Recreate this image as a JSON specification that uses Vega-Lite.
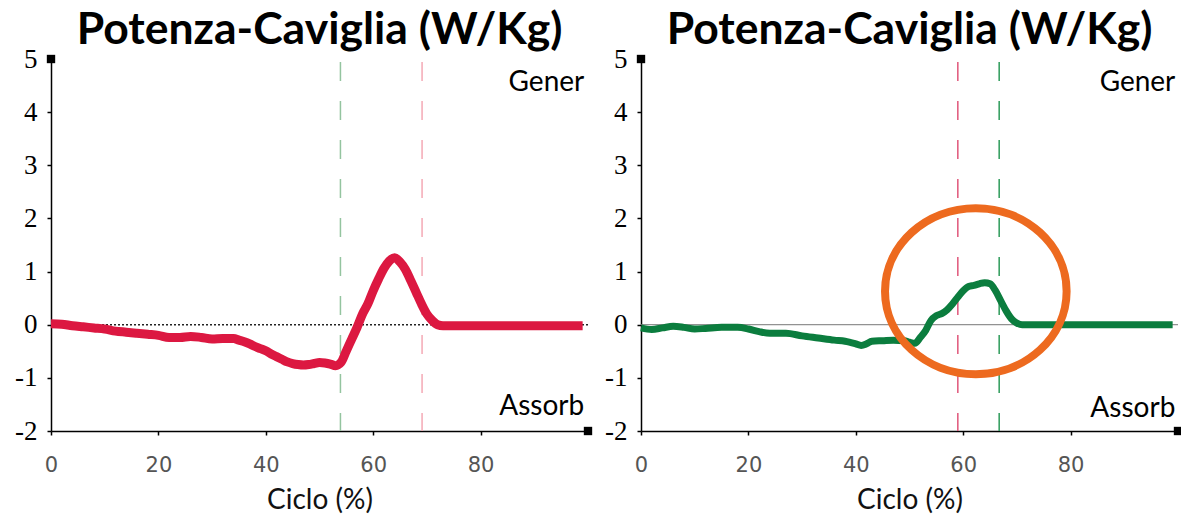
{
  "$schema": "https://vega.github.io/schema/vega-lite/v6.json",
  "background": "white",
  "padding": {"left": 14, "top": 7, "right": 0, "bottom": 0},
  "spacing": 11,
  "config": {
    "view": {"stroke": null},
    "axis": {"grid": false, "domainColor": "#000", "tickColor": "#000"}
  },
  "datasets": {
    "curves": [
      {"panel": "A", "x": 0, "y": 0.02}, {"panel": "A", "x": 2, "y": 0.01}, {"panel": "A", "x": 4, "y": -0.02},
      {"panel": "A", "x": 6, "y": -0.04}, {"panel": "A", "x": 8, "y": -0.06}, {"panel": "A", "x": 10, "y": -0.08},
      {"panel": "A", "x": 12, "y": -0.12}, {"panel": "A", "x": 14, "y": -0.14}, {"panel": "A", "x": 16, "y": -0.16},
      {"panel": "A", "x": 18, "y": -0.18}, {"panel": "A", "x": 20, "y": -0.2}, {"panel": "A", "x": 22, "y": -0.24},
      {"panel": "A", "x": 24, "y": -0.24}, {"panel": "A", "x": 26, "y": -0.22}, {"panel": "A", "x": 28, "y": -0.24},
      {"panel": "A", "x": 30, "y": -0.27}, {"panel": "A", "x": 32, "y": -0.26}, {"panel": "A", "x": 34, "y": -0.26},
      {"panel": "A", "x": 35, "y": -0.29}, {"panel": "A", "x": 36, "y": -0.32}, {"panel": "A", "x": 37, "y": -0.36},
      {"panel": "A", "x": 38, "y": -0.41}, {"panel": "A", "x": 39, "y": -0.45}, {"panel": "A", "x": 40, "y": -0.49},
      {"panel": "A", "x": 41, "y": -0.55}, {"panel": "A", "x": 42, "y": -0.6}, {"panel": "A", "x": 43, "y": -0.65},
      {"panel": "A", "x": 44, "y": -0.7}, {"panel": "A", "x": 45, "y": -0.73}, {"panel": "A", "x": 46, "y": -0.75},
      {"panel": "A", "x": 47, "y": -0.76}, {"panel": "A", "x": 48, "y": -0.75}, {"panel": "A", "x": 49, "y": -0.73},
      {"panel": "A", "x": 50, "y": -0.71}, {"panel": "A", "x": 51, "y": -0.72}, {"panel": "A", "x": 52, "y": -0.74},
      {"panel": "A", "x": 53, "y": -0.77}, {"panel": "A", "x": 54, "y": -0.71}, {"panel": "A", "x": 55, "y": -0.49},
      {"panel": "A", "x": 56, "y": -0.27}, {"panel": "A", "x": 57, "y": -0.05}, {"panel": "A", "x": 58, "y": 0.2},
      {"panel": "A", "x": 59, "y": 0.39}, {"panel": "A", "x": 60, "y": 0.64}, {"panel": "A", "x": 61, "y": 0.86},
      {"panel": "A", "x": 62, "y": 1.06}, {"panel": "A", "x": 63, "y": 1.2}, {"panel": "A", "x": 64, "y": 1.26},
      {"panel": "A", "x": 65, "y": 1.18}, {"panel": "A", "x": 66, "y": 1.04}, {"panel": "A", "x": 67, "y": 0.83},
      {"panel": "A", "x": 68, "y": 0.61}, {"panel": "A", "x": 69, "y": 0.39}, {"panel": "A", "x": 70, "y": 0.2},
      {"panel": "A", "x": 71, "y": 0.08}, {"panel": "A", "x": 72, "y": 0.0}, {"panel": "A", "x": 73, "y": -0.02},
      {"panel": "A", "x": 75, "y": -0.02}, {"panel": "A", "x": 80, "y": -0.02}, {"panel": "A", "x": 85, "y": -0.02},
      {"panel": "A", "x": 90, "y": -0.02}, {"panel": "A", "x": 95, "y": -0.02}, {"panel": "A", "x": 99, "y": -0.02},
      {"panel": "B", "x": 0, "y": -0.06}, {"panel": "B", "x": 2, "y": -0.09}, {"panel": "B", "x": 4, "y": -0.06},
      {"panel": "B", "x": 6, "y": -0.03}, {"panel": "B", "x": 8, "y": -0.05}, {"panel": "B", "x": 10, "y": -0.08},
      {"panel": "B", "x": 12, "y": -0.07}, {"panel": "B", "x": 15, "y": -0.05}, {"panel": "B", "x": 18, "y": -0.05},
      {"panel": "B", "x": 20, "y": -0.08}, {"panel": "B", "x": 22, "y": -0.13}, {"panel": "B", "x": 24, "y": -0.16},
      {"panel": "B", "x": 27, "y": -0.16}, {"panel": "B", "x": 30, "y": -0.21}, {"panel": "B", "x": 33, "y": -0.25},
      {"panel": "B", "x": 36, "y": -0.29}, {"panel": "B", "x": 38, "y": -0.31}, {"panel": "B", "x": 40, "y": -0.36},
      {"panel": "B", "x": 41, "y": -0.39}, {"panel": "B", "x": 42, "y": -0.36}, {"panel": "B", "x": 43, "y": -0.31},
      {"panel": "B", "x": 45, "y": -0.3}, {"panel": "B", "x": 47, "y": -0.29}, {"panel": "B", "x": 49, "y": -0.3},
      {"panel": "B", "x": 50, "y": -0.33}, {"panel": "B", "x": 51, "y": -0.35}, {"panel": "B", "x": 52, "y": -0.24},
      {"panel": "B", "x": 53, "y": -0.11}, {"panel": "B", "x": 54, "y": 0.08}, {"panel": "B", "x": 55, "y": 0.17},
      {"panel": "B", "x": 56, "y": 0.21}, {"panel": "B", "x": 57, "y": 0.28}, {"panel": "B", "x": 58, "y": 0.39},
      {"panel": "B", "x": 59, "y": 0.52}, {"panel": "B", "x": 60, "y": 0.64}, {"panel": "B", "x": 61, "y": 0.72},
      {"panel": "B", "x": 62, "y": 0.74}, {"panel": "B", "x": 63, "y": 0.77}, {"panel": "B", "x": 64, "y": 0.79},
      {"panel": "B", "x": 65, "y": 0.77}, {"panel": "B", "x": 66, "y": 0.64}, {"panel": "B", "x": 67, "y": 0.45},
      {"panel": "B", "x": 68, "y": 0.26}, {"panel": "B", "x": 69, "y": 0.11}, {"panel": "B", "x": 70, "y": 0.03},
      {"panel": "B", "x": 71, "y": 0.0}, {"panel": "B", "x": 75, "y": 0.0}, {"panel": "B", "x": 80, "y": 0.0},
      {"panel": "B", "x": 85, "y": 0.0}, {"panel": "B", "x": 90, "y": 0.0}, {"panel": "B", "x": 95, "y": 0.0},
      {"panel": "B", "x": 99, "y": 0.0}
    ],
    "vlines": [
      {"panel": "A", "kind": "green", "x": 53.9},
      {"panel": "A", "kind": "red", "x": 69.1},
      {"panel": "B", "kind": "red", "x": 59.0},
      {"panel": "B", "kind": "green", "x": 66.7}
    ],
    "labels": [
      {"panel": "A", "x": 99.3, "y": 4.55, "text": "Gener"},
      {"panel": "A", "x": 99.3, "y": -1.55, "text": "Assorb"},
      {"panel": "B", "x": 99.5, "y": 4.55, "text": "Gener"},
      {"panel": "B", "x": 99.5, "y": -1.58, "text": "Assorb"}
    ],
    "corners": [{"x": 0, "y": 5}, {"x": 100, "y": -2}],
    "zero": [{"y": 0}],
    "circle": [{"panel": "B", "x": 62.35, "y": 0.63}]
  },
  "hconcat": [
    {
      "width": 537,
      "height": 372,
      "title": {"text": "Potenza-Caviglia (W/Kg)", "font": "Lato", "fontSize": 44.5, "fontWeight": "bold", "color": "#000", "offset": -8},
      "layer": [
        {
          "data": {"name": "vlines"},
          "transform": [{"filter": "datum.panel == 'A' && datum.kind == 'green'"}],
          "mark": {"type": "rule", "color": "#94C49F", "strokeWidth": 1.5, "strokeDash": [19, 20], "strokeDashOffset": -3},
          "encoding": {"x": {"field": "x", "type": "quantitative", "scale": {"domain": [0, 100], "nice": false, "zero": false},
              "axis": {"values": [0, 20, 40, 60, 80], "title": "Ciclo (%)", "titleFont": "Lato", "titleFontSize": 28, "titleFontWeight": "normal", "titleColor": "#111", "titlePadding": 11,
                "labelFont": "DejaVu Sans", "labelFontSize": 21, "labelColor": "#555", "labelFlush": false, "tickSize": 4, "labelPadding": 19, "domainWidth": 1.5, "tickWidth": 1.5}}}
        },
        {
          "data": {"name": "vlines"},
          "transform": [{"filter": "datum.panel == 'A' && datum.kind == 'red'"}],
          "mark": {"type": "rule", "color": "#F4A9B5", "strokeWidth": 1.5, "strokeDash": [19, 20], "strokeDashOffset": -3},
          "encoding": {"x": {"field": "x", "type": "quantitative", "scale": {"domain": [0, 100], "nice": false, "zero": false}, "title": "Ciclo (%)"}}
        },
        {
          "data": {"name": "zero"},
          "mark": {"type": "rule", "color": "#222", "strokeWidth": 1.5, "strokeDash": [2, 2]},
          "encoding": {"y": {"field": "y", "type": "quantitative", "scale": {"domain": [-2, 5], "nice": false, "zero": false},
              "axis": {"values": [-2, -1, 0, 1, 2, 3, 4, 5], "labelExpr": "datum.value < 0 ? '-' + abs(datum.value) : '' + datum.value", "title": null, "labelFont": "Liberation Serif", "labelFontSize": 27, "labelColor": "#000", "tickSize": 4, "labelPadding": 10, "domainWidth": 1.5, "tickWidth": 1.5}}}
        },
        {
          "data": {"name": "curves"},
          "transform": [{"filter": "datum.panel == 'A'"}],
          "mark": {"type": "line", "color": "#DC1841", "strokeWidth": 9, "interpolate": "monotone", "strokeJoin": "round"},
          "encoding": {
            "x": {"field": "x", "type": "quantitative", "scale": {"domain": [0, 100], "nice": false, "zero": false}, "title": "Ciclo (%)"},
            "y": {"field": "y", "type": "quantitative", "scale": {"domain": [-2, 5], "nice": false, "zero": false}, "title": null}
          }
        },
        {
          "data": {"name": "labels"},
          "transform": [{"filter": "datum.panel == 'A'"}],
          "mark": {"type": "text", "align": "right", "baseline": "middle", "font": "Lato", "fontSize": 28, "color": "#000"},
          "encoding": {
            "x": {"field": "x", "type": "quantitative", "scale": {"domain": [0, 100], "nice": false, "zero": false}, "title": "Ciclo (%)"},
            "y": {"field": "y", "type": "quantitative", "scale": {"domain": [-2, 5], "nice": false, "zero": false}, "title": null},
            "text": {"field": "text"}
          }
        },
        {
          "data": {"name": "corners"},
          "mark": {"type": "point", "shape": "square", "filled": true, "size": 70, "color": "#000", "opacity": 1},
          "encoding": {
            "x": {"field": "x", "type": "quantitative", "scale": {"domain": [0, 100], "nice": false, "zero": false}, "title": "Ciclo (%)"},
            "y": {"field": "y", "type": "quantitative", "scale": {"domain": [-2, 5], "nice": false, "zero": false}, "title": null}
          }
        }
      ]
    },
    {
      "width": 537,
      "height": 372,
      "title": {"text": "Potenza-Caviglia (W/Kg)", "font": "Lato", "fontSize": 44.5, "fontWeight": "bold", "color": "#000", "offset": -8},
      "layer": [
        {
          "data": {"name": "vlines"},
          "transform": [{"filter": "datum.panel == 'B' && datum.kind == 'red'"}],
          "mark": {"type": "rule", "color": "#E0567A", "strokeWidth": 1.5, "strokeDash": [19, 20], "strokeDashOffset": -3},
          "encoding": {"x": {"field": "x", "type": "quantitative", "scale": {"domain": [0, 100], "nice": false, "zero": false},
              "axis": {"values": [0, 20, 40, 60, 80], "title": "Ciclo (%)", "titleFont": "Lato", "titleFontSize": 28, "titleFontWeight": "normal", "titleColor": "#111", "titlePadding": 11,
                "labelFont": "DejaVu Sans", "labelFontSize": 21, "labelColor": "#555", "labelFlush": false, "tickSize": 4, "labelPadding": 19, "domainWidth": 1.5, "tickWidth": 1.5}}}
        },
        {
          "data": {"name": "vlines"},
          "transform": [{"filter": "datum.panel == 'B' && datum.kind == 'green'"}],
          "mark": {"type": "rule", "color": "#2E9B5A", "strokeWidth": 1.5, "strokeDash": [19, 20], "strokeDashOffset": -3},
          "encoding": {"x": {"field": "x", "type": "quantitative", "scale": {"domain": [0, 100], "nice": false, "zero": false}, "title": "Ciclo (%)"}}
        },
        {
          "data": {"name": "zero"},
          "mark": {"type": "rule", "color": "#777", "strokeWidth": 1},
          "encoding": {"y": {"field": "y", "type": "quantitative", "scale": {"domain": [-2, 5], "nice": false, "zero": false},
              "axis": {"values": [-2, -1, 0, 1, 2, 3, 4, 5], "labelExpr": "datum.value < 0 ? '-' + abs(datum.value) : '' + datum.value", "title": null, "labelFont": "Liberation Serif", "labelFontSize": 27, "labelColor": "#000", "tickSize": 4, "labelPadding": 10, "domainWidth": 1.5, "tickWidth": 1.5}}}
        },
        {
          "data": {"name": "curves"},
          "transform": [{"filter": "datum.panel == 'B'"}],
          "mark": {"type": "line", "color": "#0B7D3E", "strokeWidth": 7, "interpolate": "monotone", "strokeJoin": "round"},
          "encoding": {
            "x": {"field": "x", "type": "quantitative", "scale": {"domain": [0, 100], "nice": false, "zero": false}, "title": "Ciclo (%)"},
            "y": {"field": "y", "type": "quantitative", "scale": {"domain": [-2, 5], "nice": false, "zero": false}, "title": null}
          }
        },
        {
          "data": {"name": "circle"},
          "mark": {"type": "point", "shape": "M-1,0A1,0.914,0,1,1,1,0A1,0.914,0,1,1,-1,0Z", "filled": false, "size": 32979, "strokeWidth": 8, "color": "#ED6A1F", "opacity": 1},
          "encoding": {
            "x": {"field": "x", "type": "quantitative", "scale": {"domain": [0, 100], "nice": false, "zero": false}, "title": "Ciclo (%)"},
            "y": {"field": "y", "type": "quantitative", "scale": {"domain": [-2, 5], "nice": false, "zero": false}, "title": null}
          }
        },
        {
          "data": {"name": "labels"},
          "transform": [{"filter": "datum.panel == 'B'"}],
          "mark": {"type": "text", "align": "right", "baseline": "middle", "font": "Lato", "fontSize": 28, "color": "#000"},
          "encoding": {
            "x": {"field": "x", "type": "quantitative", "scale": {"domain": [0, 100], "nice": false, "zero": false}, "title": "Ciclo (%)"},
            "y": {"field": "y", "type": "quantitative", "scale": {"domain": [-2, 5], "nice": false, "zero": false}, "title": null},
            "text": {"field": "text"}
          }
        },
        {
          "data": {"name": "corners"},
          "mark": {"type": "point", "shape": "square", "filled": true, "size": 70, "color": "#000", "opacity": 1},
          "encoding": {
            "x": {"field": "x", "type": "quantitative", "scale": {"domain": [0, 100], "nice": false, "zero": false}, "title": "Ciclo (%)"},
            "y": {"field": "y", "type": "quantitative", "scale": {"domain": [-2, 5], "nice": false, "zero": false}, "title": null}
          }
        }
      ]
    }
  ]
}
